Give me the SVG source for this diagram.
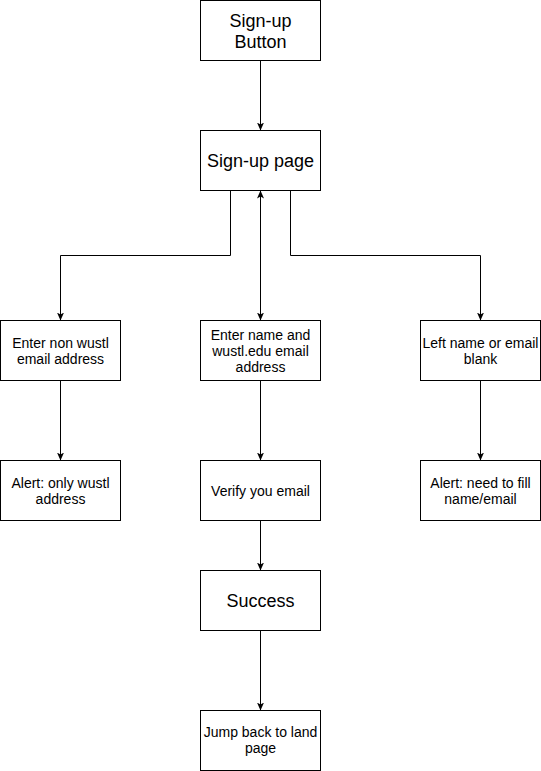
<svg xmlns="http://www.w3.org/2000/svg" width="541" height="771" viewBox="0 0 541 771">
<style>
.box{fill:#fff;stroke:#000;stroke-width:1}
.t{font-family:"Liberation Sans",Arial,sans-serif;fill:#000;text-anchor:middle}
.l{font-size:18px}
.s{font-size:14px}
.c{fill:none;stroke:#000;stroke-width:1}
</style>
<defs>
<marker id="arr" markerUnits="userSpaceOnUse" viewBox="0 0 8 8" refX="8" refY="4" markerWidth="8" markerHeight="8" orient="auto-start-reverse">
<path d="M0,0.5 L8,4 L0,7.5 L2,4 Z" fill="#000"/>
</marker>
</defs>
<rect width="541" height="771" fill="#fff"/>
<g id="connectors">
<path class="c" d="M260.5,60.5 V130.5" marker-end="url(#arr)"/>
<path class="c" d="M230.5,190.5 V255.5 H60.5 V320.5" marker-end="url(#arr)"/>
<path class="c" d="M290.5,190.5 V255.5 H480.5 V320.5" marker-end="url(#arr)"/>
<path class="c" d="M260.5,190.5 V320.5" marker-start="url(#arr)" marker-end="url(#arr)"/>
<path class="c" d="M60.5,380.5 V460.5" marker-end="url(#arr)"/>
<path class="c" d="M260.5,380.5 V460.5" marker-end="url(#arr)"/>
<path class="c" d="M480.5,380.5 V460.5" marker-end="url(#arr)"/>
<path class="c" d="M260.5,520.5 V570.5" marker-end="url(#arr)"/>
<path class="c" d="M260.5,630.5 V710.5" marker-end="url(#arr)"/>
</g>
<g id="signup-button">
<rect class="box" x="200.5" y="0.5" width="120" height="60"/>
<text class="t l" x="260.5" y="27">Sign-up</text>
<text class="t l" x="260.5" y="48">Button</text>
</g>
<g id="signup-page">
<rect class="box" x="200.5" y="130.5" width="120" height="60"/>
<text class="t l" x="260.5" y="167">Sign-up page</text>
</g>
<g id="enter-non-wustl">
<rect class="box" x="0.5" y="320.5" width="120" height="60"/>
<text class="t s" x="60.5" y="348">Enter non wustl</text>
<text class="t s" x="60.5" y="364">email address</text>
</g>
<g id="enter-name">
<rect class="box" x="200.5" y="320.5" width="120" height="60"/>
<text class="t s" x="260.5" y="339.5">Enter name and</text>
<text class="t s" x="260.5" y="355.5">wustl.edu email</text>
<text class="t s" x="260.5" y="371.5">address</text>
</g>
<g id="left-blank">
<rect class="box" x="420.5" y="320.5" width="120" height="60"/>
<text class="t s" x="480.5" y="348">Left name or email</text>
<text class="t s" x="480.5" y="364">blank</text>
</g>
<g id="alert-only">
<rect class="box" x="0.5" y="460.5" width="120" height="60"/>
<text class="t s" x="60.5" y="488">Alert: only wustl</text>
<text class="t s" x="60.5" y="504">address</text>
</g>
<g id="verify">
<rect class="box" x="200.5" y="460.5" width="120" height="60"/>
<text class="t s" x="260.5" y="496">Verify you email</text>
</g>
<g id="alert-fill">
<rect class="box" x="420.5" y="460.5" width="120" height="60"/>
<text class="t s" x="480.5" y="488">Alert: need to fill</text>
<text class="t s" x="480.5" y="504">name/email</text>
</g>
<g id="success">
<rect class="box" x="200.5" y="570.5" width="120" height="60"/>
<text class="t l" x="260.5" y="607">Success</text>
</g>
<g id="jump-back">
<rect class="box" x="200.5" y="710.5" width="120" height="60"/>
<text class="t s" x="260.5" y="737">Jump back to land</text>
<text class="t s" x="260.5" y="753">page</text>
</g>
</svg>
